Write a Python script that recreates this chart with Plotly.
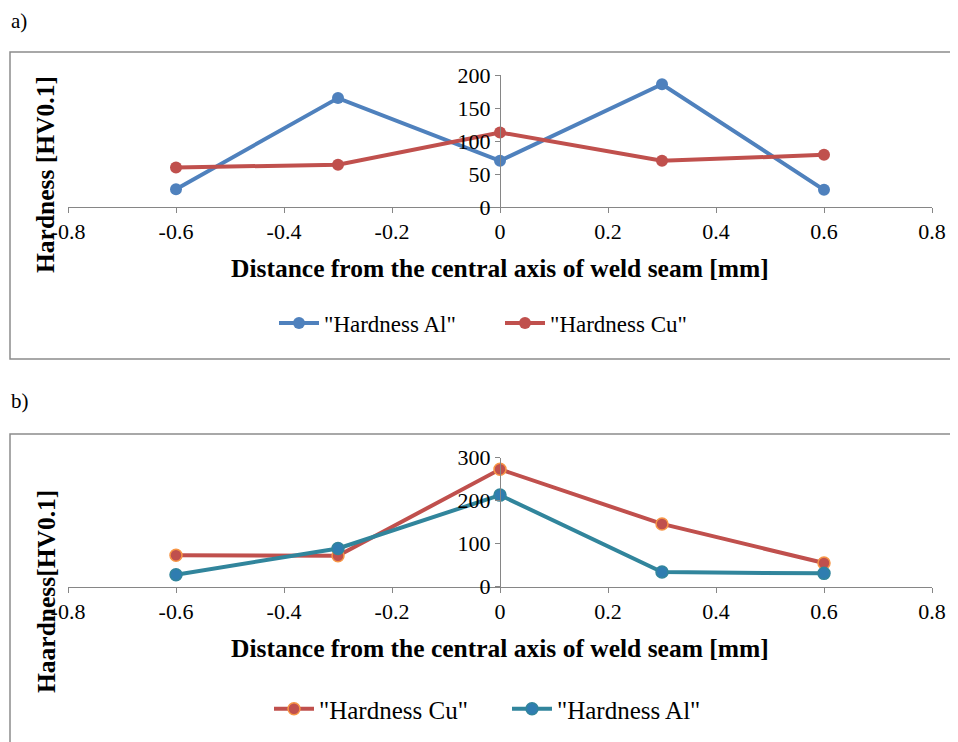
import plotly.graph_objects as go

# The page adds an 8px body margin, so the figure is sized to fit the 958x742 window.
OFF = 8
W, H = 958 - OFF, 742 - OFF

# ---- data ----
distance = [-0.6, -0.3, 0.0, 0.3, 0.6]
a_hardness_al = [27, 165, 70, 186, 26]
a_hardness_cu = [60, 64, 113, 70, 79]
b_hardness_cu = [73, 72, 273, 146, 55]
b_hardness_al = [28, 89, 213, 34, 31]

x_tickvals = [-0.8, -0.6, -0.4, -0.2, 0, 0.2, 0.4, 0.6, 0.8]
x_ticktext = ["-0.8", "-0.6", "-0.4", "-0.2", "0", "0.2", "0.4", "0.6", "0.8"]
ya_tickvals = [0, 50, 100, 150, 200]
yb_tickvals = [0, 100, 200, 300]

series_a_names = ['"Hardness Al"', '"Hardness Cu"']
series_b_names = ['"Hardness Cu"', '"Hardness Al"']
x_title = "Distance from the central axis of weld seam [mm]"
ya_title = "Hardness [HV0.1]"
yb_title = "Haardness[HV0.1]"

# ---- layout helpers (window pixel -> paper) ----
def px(x):
    return (x - OFF) / W

def py(y):
    return 1 - (y - OFF) / H

FONT = "Liberation Serif"
AX = "#868686"
BLUE = "#4F81BD"
RED = "#C0504D"
ORANGE = "#F79646"
TEAL = "#31859C"
TEALM = "#2F7DB0"

x_dom = [px(68), px(932)]
xmin, xmax = -0.8, 0.8
yaxis_pos = x_dom[0] + (0 - xmin) / (xmax - xmin) * (x_dom[1] - x_dom[0])

fig = go.Figure()

fig.add_trace(go.Scatter(x=distance, y=a_hardness_al, name=series_a_names[0],
                         mode="lines+markers", line=dict(color=BLUE, width=4),
                         marker=dict(color=BLUE, size=12),
                         xaxis="x", yaxis="y", legend="legend"))
fig.add_trace(go.Scatter(x=distance, y=a_hardness_cu, name=series_a_names[1],
                         mode="lines+markers", line=dict(color=RED, width=4),
                         marker=dict(color=RED, size=12),
                         xaxis="x", yaxis="y", legend="legend2"))
fig.add_trace(go.Scatter(x=distance, y=b_hardness_cu, name=series_b_names[0],
                         mode="lines+markers", line=dict(color=RED, width=4),
                         marker=dict(color=RED, size=12, line=dict(color=ORANGE, width=1.5)),
                         xaxis="x2", yaxis="y2", legend="legend3"))
fig.add_trace(go.Scatter(x=distance, y=b_hardness_al, name=series_b_names[1],
                         mode="lines+markers", line=dict(color=TEAL, width=4),
                         marker=dict(color=TEALM, size=12, line=dict(color=TEAL, width=1.5)),
                         xaxis="x2", yaxis="y2", legend="legend4"))

xcommon = dict(range=[xmin, xmax], tickvals=x_tickvals, ticktext=x_ticktext,
               showgrid=False, zeroline=False, showline=True, linecolor=AX, linewidth=1,
               ticks="outside", ticklen=5, tickcolor=AX, automargin=False,
               tickfont=dict(family=FONT, size=22, color="#000"), domain=x_dom)
ycommon = dict(showgrid=False, zeroline=False, showline=True, linecolor=AX, linewidth=1,
               ticks="outside", ticklen=5, tickcolor=AX, automargin=False,
               tickfont=dict(family=FONT, size=22, color="#000"),
               anchor="free", position=yaxis_pos)

def leg(xpix, ypix, size):
    return dict(orientation="h", x=px(xpix), xanchor="left", y=py(ypix), yanchor="middle",
                font=dict(family=FONT, size=size, color="#000"), bgcolor="rgba(0,0,0,0)",
                itemwidth=40)

fig.update_layout(
    width=W, height=H, margin=dict(l=0, r=0, t=0, b=0, pad=0, autoexpand=False),
    paper_bgcolor="white", plot_bgcolor="white",
    xaxis=dict(xcommon, anchor="y"),
    yaxis=dict(ycommon, range=[0, 200], tickvals=ya_tickvals, domain=[py(207), py(75)]),
    xaxis2=dict(xcommon, anchor="y2"),
    yaxis2=dict(ycommon, range=[0, 300], tickvals=yb_tickvals, domain=[py(586.7), py(457.7)]),
    legend=leg(274, 323, 23),
    legend2=leg(500, 323, 23),
    legend3=leg(269, 709, 25),
    legend4=leg(507, 709, 25),
    showlegend=True,
)

fig.update_layout(shapes=[
    dict(type="rect", xref="paper", yref="paper", x0=px(10), x1=px(962), y0=py(359), y1=py(52),
         line=dict(color="#8C8C8C", width=1.5), fillcolor="rgba(0,0,0,0)", layer="below"),
    dict(type="rect", xref="paper", yref="paper", x0=px(10), x1=px(962), y0=py(745), y1=py(434),
         line=dict(color="#8C8C8C", width=1.5), fillcolor="rgba(0,0,0,0)", layer="below"),
])

ann = []
ann.append(dict(text="a)", x=px(9), y=py(21), xanchor="left", yanchor="middle"))
ann.append(dict(text="b)", x=px(9), y=py(401), xanchor="left", yanchor="middle"))
for a in ann:
    a.update(xref="paper", yref="paper", showarrow=False, font=dict(family=FONT, size=21, color="#000"))
titles = [
    dict(text="<b>" + x_title + "</b>", x=px(500), y=py(268), textangle=0),
    dict(text="<b>" + x_title + "</b>", x=px(500), y=py(648), textangle=0),
    dict(text="<b>" + ya_title + "</b>", x=px(46), y=py(175), textangle=-90),
    dict(text="<b>" + yb_title + "</b>", x=px(46), y=py(592), textangle=-90),
]
for t in titles:
    t.update(xref="paper", yref="paper", showarrow=False, xanchor="center", yanchor="middle",
             font=dict(family=FONT, size=25.5, color="#000"))
fig.update_layout(annotations=ann + titles)

fig.write_html("out.html")
